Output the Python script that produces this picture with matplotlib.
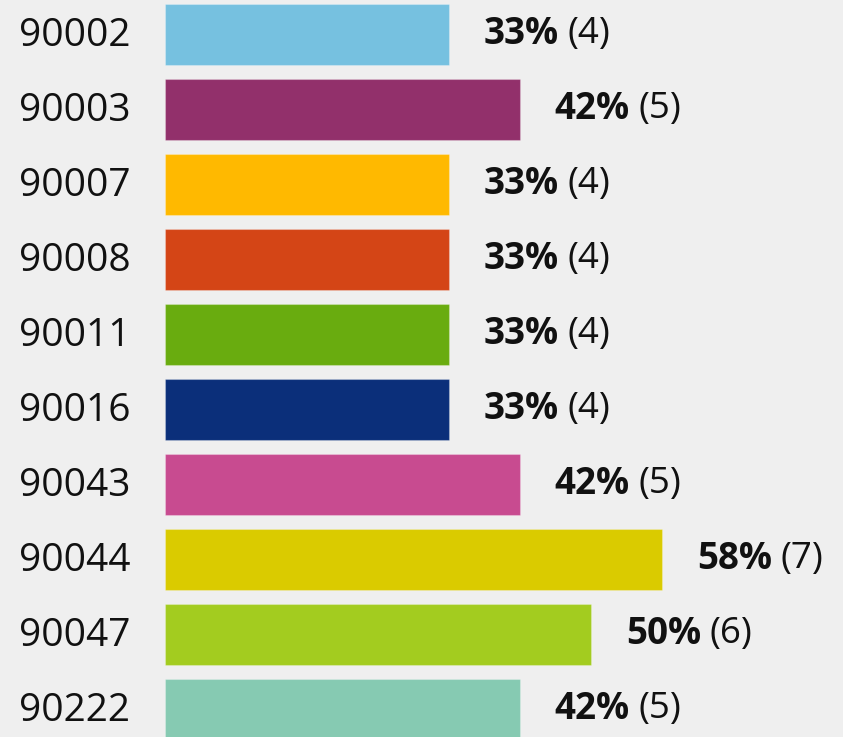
import matplotlib
matplotlib.use("Agg")
import matplotlib.pyplot as plt
from matplotlib.transforms import ScaledTranslation

categories = ["90002", "90003", "90007", "90008", "90011", "90016", "90043", "90044", "90047", "90222"]
counts = [4, 5, 4, 4, 4, 4, 5, 7, 6, 5]
percents = [33, 42, 33, 33, 33, 33, 42, 58, 50, 42]
total = 12
colors = ["#76c1e0", "#92306b", "#ffb900", "#d44516", "#69ac0f", "#0b2f7a",
          "#c84b90", "#dacb00", "#a3cc1f", "#86cab2"]

plt.rcParams['font.family'] = ['Open Sans', 'DejaVu Sans']
bg = "#efefef"
W, H = 843, 737
fig = plt.figure(figsize=(W/100, H/100), dpi=100, facecolor=bg)
left_px = 165
ax = fig.add_axes([left_px/W, 0, 1 - left_px/W, 1])
ax.set_facecolor(bg)

shares = [c / total * 100 for c in counts]
y = list(range(len(categories)))
ax.barh(y, shares, height=61/75, color=colors, edgecolor="#ffffff40", linewidth=0.8)

px_per_unit = (4/12*100)
ax.set_xlim(0, (W - left_px) / (284 / px_per_unit))
ax.set_ylim((H - 34.5) / 75, -34.5 / 75)

ax.set_yticks(y)
ax.set_yticklabels(categories, fontsize=28, color="#111111", va="center_baseline")
ax.tick_params(axis='y', length=0, pad=25)
shift = ScaledTranslation(0, 3/100, fig.dpi_scale_trans)
for lab in ax.get_yticklabels():
    lab.set_transform(lab.get_transform() + shift)
ax.set_xticks([])
for s in ax.spines.values():
    s.set_visible(False)

fig.canvas.draw()
renderer = fig.canvas.get_renderer()
for yi, sh, p, c in zip(y, shares, percents, counts):
    t = ax.annotate(f"{p}%", xy=(sh, yi), xytext=(25, 3.5), textcoords="offset points",
                    ha="left", va="center_baseline", fontsize=26.5, fontweight="bold", color="#111111")
    bb = t.get_window_extent(renderer)
    ax.annotate(f"({c})", xy=(sh, yi), xytext=(25 + bb.width * 72 / 100 + 6, 3.5),
                textcoords="offset points", ha="left", va="center_baseline", fontsize=26.5,
                color="#111111")

fig.savefig("out.png", dpi=100, facecolor=bg)
